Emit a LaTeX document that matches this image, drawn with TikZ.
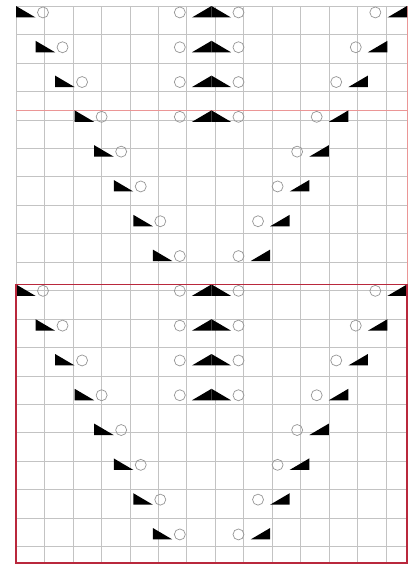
\documentclass[tikz,border=0pt]{standalone}
\definecolor{gridc}{RGB}{195,195,195}
\definecolor{circc}{RGB}{150,150,150}
\definecolor{boxred}{RGB}{185,40,60}
\definecolor{pinkline}{RGB}{235,150,150}
\tikzset{
  gridline/.style={draw=gridc, line width=0.6pt},
  yo/.style={draw=circc, line width=0.7pt},
  dec/.style={fill=black},
  redbox/.style={draw=boxred, line width=1.6pt},
  thinred/.style={draw=pinkline, line width=0.5pt}
}
\begin{document}
\begin{tikzpicture}[x=1pt,y=-1pt]
\useasboundingbox (0,0) rectangle (414,565);
\fill[white] (0,0) rectangle (414,565);
\begin{scope}[shift={(16,6)}, x={(19.55pt,0pt)}, y={(0pt,-17.4pt)}]
  \draw[gridline] (0,0) grid (20,32);
  \draw[thinred] (0,6) -- (20,6);
  \draw[thinred] (20,0) -- (20,16);
  \foreach \b in {0,16}{
    \foreach \i in {0,...,7}{
      \pgfmathsetmacro{\r}{\b+2*\i}
      \pgfmathsetmacro{\rb}{\r+0.66}
      \pgfmathsetmacro{\rc}{\r+0.37}
      % left decrease
      \fill[dec] (\i,\r) -- (\i,\rb) -- (\i+1,\rb) -- cycle;
      \draw[yo] (\i+1.38,\rc) circle[radius=5.5pt];
      % right decrease
      \draw[yo] (18-\i+0.38,\rc) circle[radius=5.5pt];
      \fill[dec] (20-\i,\r) -- (20-\i,\rb) -- (19-\i,\rb) -- cycle;
      \ifnum\i<4
        \draw[yo] (8.38,\rc) circle[radius=5.5pt];
        \fill[dec] (10,\r) -- (10,\rb) -- (9,\rb) -- cycle;
        \fill[dec] (10,\r) -- (10,\rb) -- (11,\rb) -- cycle;
        \draw[yo] (11.38,\rc) circle[radius=5.5pt];
      \fi
    }
  }
  \draw[redbox] (0,16) rectangle (20,32);
\end{scope}
\end{tikzpicture}
\end{document}
